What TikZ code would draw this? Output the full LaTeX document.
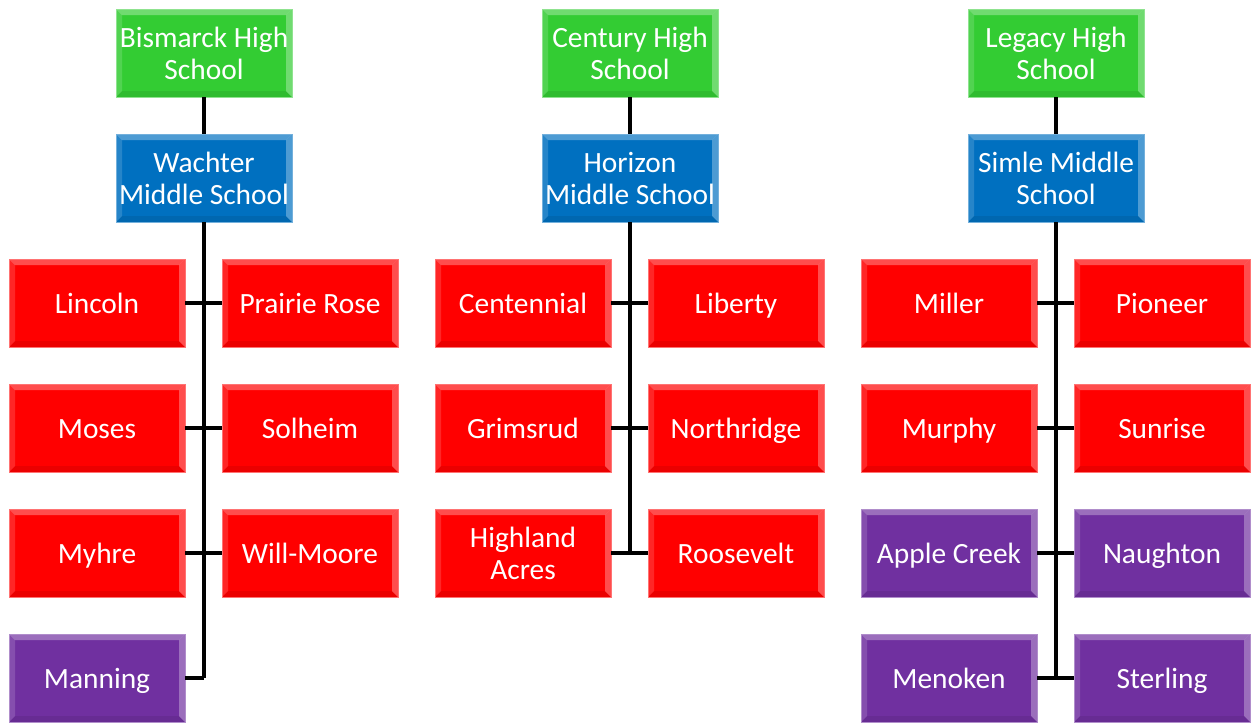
\documentclass[tikz,border=0pt]{standalone}
\usepackage{fontspec}
\setmainfont{Carlito}
\usepackage{tikz}

\definecolor{hsgreen}{RGB}{51,204,51}
\definecolor{msblue}{RGB}{0,112,192}
\definecolor{elred}{RGB}{255,0,0}
\definecolor{elpurple}{RGB}{112,48,160}

\tikzset{
  bevel/.style={path picture={
    \fill[white,opacity=0.3] (path picture bounding box.north west) -- (path picture bounding box.north east) -- ([xshift=-3pt,yshift=-3pt]path picture bounding box.north east) -- ([xshift=3pt,yshift=-3pt]path picture bounding box.north west) -- cycle;
    \fill[white,opacity=0.15] (path picture bounding box.north west) -- ([xshift=3pt,yshift=-3pt]path picture bounding box.north west) -- ([xshift=3pt,yshift=3pt]path picture bounding box.south west) -- (path picture bounding box.south west) -- cycle;
    \fill[white,opacity=0.3] (path picture bounding box.north east) -- ([xshift=-3pt,yshift=-3pt]path picture bounding box.north east) -- ([xshift=-3pt,yshift=3pt]path picture bounding box.south east) -- (path picture bounding box.south east) -- cycle;
    \fill[black,opacity=0.08] (path picture bounding box.south west) -- ([xshift=3pt,yshift=3pt]path picture bounding box.south west) -- ([xshift=-3pt,yshift=3pt]path picture bounding box.south east) -- (path picture bounding box.south east) -- cycle;
  }},
  tile/.style={rectangle,fill=#1,draw=#1!55!white,line width=0.4pt,bevel,minimum width=88pt,minimum height=44pt,inner sep=1pt,text=white,align=center,font=\fontsize{14.7}{16}\selectfont,execute at begin node={\rule[-4.8pt]{0pt}{19.8pt}}},
  tall/.style={execute at begin node={\rule[-4.8pt]{0pt}{35.8pt}}},
  link/.style={line width=1.6pt}
}

\begin{document}
\begin{tikzpicture}[x=0.5pt,y=-0.5pt]
\useasboundingbox (0,0) rectangle (1257,724);

\node[tile=hsgreen,tall] (g1) at (204,53) {Bismarck High\\School};
\node[tile=msblue,tall] (b1) at (204,178) {Wachter\\Middle School};
\node[tile=elred] (c11) at (97,303) {Lincoln};
\node[tile=elred] (c12) at (310,303) {Prairie Rose};
\node[tile=elred] (c13) at (97,428) {Moses};
\node[tile=elred] (c14) at (310,428) {Solheim};
\node[tile=elred] (c15) at (97,553) {Myhre};
\node[tile=elred] (c16) at (310,553) {Will-Moore};
\node[tile=elpurple] (c17) at (97,678) {Manning};

\node[tile=hsgreen,tall] (g2) at (630,53) {Century High\\School};
\node[tile=msblue,tall] (b2) at (630,178) {Horizon\\Middle School};
\node[tile=elred] (c21) at (523,303) {Centennial};
\node[tile=elred] (c22) at (736,303) {Liberty};
\node[tile=elred] (c23) at (523,428) {Grimsrud};
\node[tile=elred] (c24) at (736,428) {Northridge};
\node[tile=elred,tall] (c25) at (523,553) {Highland\\Acres};
\node[tile=elred] (c26) at (736,553) {Roosevelt};

\node[tile=hsgreen,tall] (g3) at (1056,53) {Legacy High\\School};
\node[tile=msblue,tall] (b3) at (1056,178) {Simle Middle\\School};
\node[tile=elred] (c31) at (949,303) {Miller};
\node[tile=elred] (c32) at (1162,303) {Pioneer};
\node[tile=elred] (c33) at (949,428) {Murphy};
\node[tile=elred] (c34) at (1162,428) {Sunrise};
\node[tile=elpurple] (c35) at (949,553) {Apple Creek};
\node[tile=elpurple] (c36) at (1162,553) {Naughton};
\node[tile=elpurple] (c37) at (949,678) {Menoken};
\node[tile=elpurple] (c38) at (1162,678) {Sterling};

\draw[link] (g1) -- (b1);
\draw[link] (b1.south) -- (b1.south |- c17.east);
\draw[link] (c11.east) -- (c12.west);
\draw[link] (c13.east) -- (c14.west);
\draw[link] (c15.east) -- (c16.west);
\draw[link] (c17.east) -- (b1.south |- c17.east);

\draw[link] (g2) -- (b2);
\draw[link] (b2.south) -- (b2.south |- c25.east);
\draw[link] (c21.east) -- (c22.west);
\draw[link] (c23.east) -- (c24.west);
\draw[link] (c25.east) -- (c26.west);

\draw[link] (g3) -- (b3);
\draw[link] (b3.south) -- (b3.south |- c37.east);
\draw[link] (c31.east) -- (c32.west);
\draw[link] (c33.east) -- (c34.west);
\draw[link] (c35.east) -- (c36.west);
\draw[link] (c37.east) -- (c38.west);
\end{tikzpicture}
\end{document}
